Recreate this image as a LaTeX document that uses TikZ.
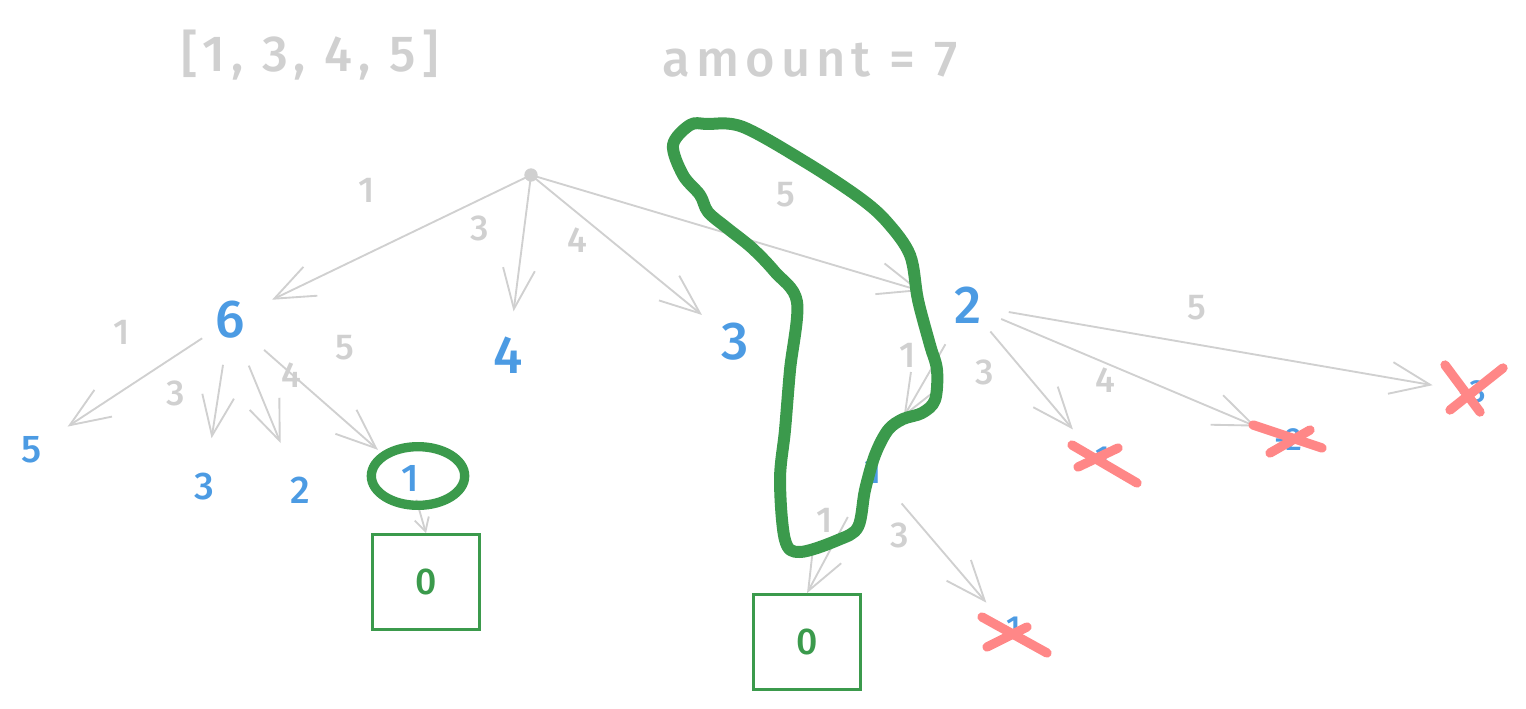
\documentclass[tikz,border=0pt]{standalone}
\usepackage{fontspec}
\setmainfont{Fira Sans}[UprightFont={* Medium}]
\newfontfamily\widehand{Fira Sans}[UprightFont={* Medium}, LetterSpace=12]
\usetikzlibrary{arrows.meta}
\usetikzlibrary{calc}

\definecolor{lgray}{HTML}{D0D0D0}
\definecolor{vblue}{HTML}{4C9BE3}
\definecolor{okgreen}{HTML}{3B9A4C}
\definecolor{xred}{HTML}{FF8787}

\tikzset{
  big/.style={text=vblue, font=\fontsize{40}{40}\selectfont, inner sep=0pt},
  small/.style={text=vblue, font=\fontsize{29}{29}\selectfont, inner sep=0pt},
  neg/.style={text=vblue, font=\fontsize{24}{24}\selectfont, inner sep=0pt},
  wt/.style={text=lgray, font=\fontsize{27}{27}\selectfont, inner sep=0pt},
  head/.style={text=lgray, font=\widehand\fontsize{38}{38}\selectfont, inner sep=0pt},
  bag/.style={draw=okgreen, line width=2.2pt, minimum width=80pt, minimum height=71pt,
    text=okgreen, font=\fontsize{28}{28}\selectfont},
  coin/.style={draw=lgray, line width=1.4pt, -{Straight Barb[length=30pt,width=24pt]}},
  tinycoin/.style={draw=lgray, line width=1.4pt, -{Straight Barb[length=10pt,width=11pt]}},
  pick/.style={draw=okgreen, line width=9pt, line join=round},
  cross/.style={draw=xred, line width=7pt, line cap=round},
}

\begin{document}
\begin{tikzpicture}[x=0.75pt, y=-0.75pt]
\useasboundingbox (0,0) rectangle (1526,709);

% header
\node[head] (coins) at (310,55) {[1, 3, 4, 5]};
\node[head] (amt) at (810,60) {amount = 7};

% remaining amounts
\node[circle, fill=lgray, minimum size=10pt, inner sep=0pt] (root) at (531,175) {};
\node[big] (n6) at (230,320) {6};
\node[big] (n4) at (508,355) {4};
\node[big] (n3) at (735,342) {3};
\node[big] (n2) at (968,305) {2};
\node[small] (a5) at (32,450) {5};
\node[small] (a3) at (204,487) {3};
\node[small] (a2) at (300,490) {2};
\node[small] (a1) at (410,478) {1};
\node[small] (b1) at (873,470) {1};
\node[neg] (c1) at (1097,458) {-1};
\node[neg] (c2) at (1288,440) {-2};
\node[neg] (c3) at (1472,392) {-3};
\node[neg] (d1) at (1008,628) {-1};
\node[bag] (box1) at (426,582) {0};
\node[bag] (box2) at (807,642) {0};

% coin edges
\path
  (root.center) edge[coin, shorten >=35pt] (n6.center)
                edge[coin, shorten >=33pt] (n4.center)
                edge[coin, shorten >=32pt] (n3.center)
                edge[coin, shorten >=37pt] (n2.center)
  (n6.center) edge[coin, shorten <=25pt, shorten >=32pt] (a5.center)
              edge[coin, shorten <=34pt, shorten >=37pt] (a3.center)
              edge[coin, shorten <=37pt, shorten >=38pt] (a2.center)
              edge[coin, shorten <=34pt, shorten >=32pt] (a1.center)
  (a1.center) edge[tinycoin, shorten <=17pt] (box1.north)
  (n2.center) edge[coin, shorten <=34pt, shorten >=46pt] (b1.center)
              edge[coin, shorten <=26pt, shorten >=28pt] (c1.center)
              edge[coin, shorten <=27pt, shorten >=26pt] (c2.center)
              edge[coin, shorten <=31pt, shorten >=30pt] (c3.center)
  (b1.center) edge[coin, shorten <=40pt] (box2.north)
              edge[coin, shorten <=33pt, shorten >=25pt] (d1.center);

% coin values
\node[wt] (w1) at (367,190) {1};
\node[wt] (w3) at (480,228) {3};
\node[wt] (w4) at (577,240) {4};
\node[wt] (w5) at (786,195) {5};
\node[wt] (w61) at (122,332) {1};
\node[wt] (w63) at (176,393) {3};
\node[wt] (w64) at (291,375) {4};
\node[wt] (w65) at (345,348) {5};
\node[wt] (w21) at (908,355) {1};
\node[wt] (w23) at (985,372) {3};
\node[wt] (w24) at (1105,380) {4};
\node[wt] (w25) at (1197,308) {5};
\node[wt] (w11) at (825,520) {1};
\node[wt] (w13) at (900,535) {3};

% green marks
\draw[pick] plot[smooth cycle, tension=0.55] coordinates {
  (673,145) (690,125) (707,124) (743,127) (807,163) (860,198) (887,222)
  (910,255) (918,300) (930,345) (937,370) (935,400) (922,413) (903,419)
  (888,430) (875,455) (865,490) (858,527) (838,540) (800,552) (785,540)
  (780,480) (785,430) (790,370) (797,302) (775,272) (752,248) (727,228)
  (708,212) (700,195) (683,175)};
\draw[okgreen, line width=7pt] (418,476) ellipse (35pt and 22pt);

% dead ends
\draw[cross] ($(c1)+(-25,-13)$) -- ($(c1)+(40,25)$);
\draw[cross] ($(c1)+(-19,9)$) -- ($(c1)+(21,-10)$);
\draw[cross] ($(c2)+(-35,-15)$) -- ($(c2)+(34,8)$);
\draw[cross] ($(c2)+(-18,13)$) -- ($(c2)+(22,-10)$);
\draw[cross] ($(c3)+(-27,-27)$) -- ($(c3)+(8,20)$);
\draw[cross] ($(c3)+(-22,18)$) -- ($(c3)+(31,-24)$);
\draw[cross] ($(d1)+(-26,-11)$) -- ($(d1)+(39,25)$);
\draw[cross] ($(d1)+(-21,19)$) -- ($(d1)+(19,-1)$);
\end{tikzpicture}
\end{document}
